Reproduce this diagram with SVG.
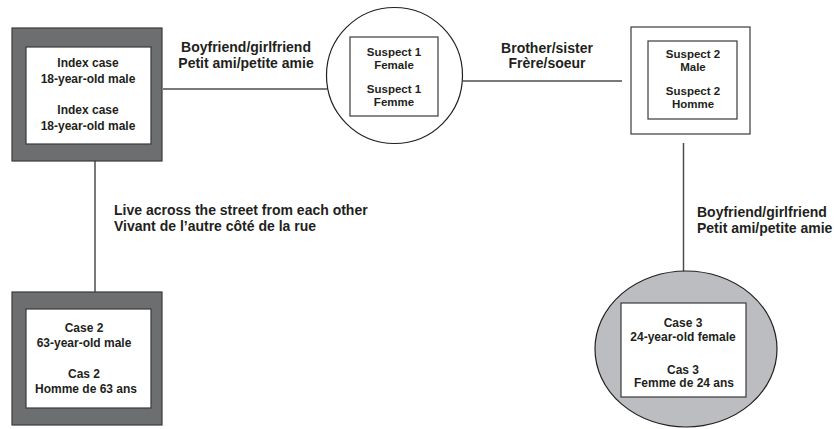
<svg xmlns="http://www.w3.org/2000/svg" width="834" height="429" viewBox="0 0 834 429">
<style>
text{font-family:"Liberation Sans",Arial,sans-serif;font-weight:bold;fill:#231f20}
.n{font-size:12px;text-anchor:middle}
.s{font-size:11.5px;text-anchor:middle}
.l{font-size:14px}
.c{font-size:14px;text-anchor:middle}
.dark{fill:#6d6e70;stroke:#3a3a3c;stroke-width:1.2}
.inner{fill:#fff;stroke:#3a3a3c;stroke-width:1.2}
.conn{stroke:#4d4d4f;stroke-width:1.5;fill:none}
</style>
<g id="connectors">
<line class="conn" x1="163" y1="89" x2="327" y2="89"/>
<line class="conn" x1="463" y1="81" x2="622" y2="81"/>
<line class="conn" x1="95" y1="161" x2="95" y2="292"/>
<line class="conn" x1="683.5" y1="143" x2="683.5" y2="271"/>
<text class="c" x="246" y="52">Boyfriend/girlfriend</text>
<text class="c" x="246" y="68">Petit ami/petite amie</text>
<text class="c" x="547" y="53">Brother/sister</text>
<text class="c" x="547" y="68">Frère/soeur</text>
<text class="l" x="114" y="215">Live across the street from each other</text>
<text class="l" x="114" y="231">Vivant de l’autre côté de la rue</text>
<text class="l" x="697" y="217">Boyfriend/girlfriend</text>
<text class="l" x="697" y="233">Petit ami/petite amie</text>
</g>
<g id="index-case">
<rect class="dark" x="12" y="28" width="150" height="133"/>
<rect class="inner" x="26" y="47" width="125" height="97"/>
<text class="n" x="88" y="67">Index case</text>
<text class="n" x="88" y="83">18-year-old male</text>
<text class="n" x="88" y="114">Index case</text>
<text class="n" x="88" y="130">18-year-old male</text>
</g>
<g id="suspect-1">
<circle cx="394.5" cy="75.5" r="68" fill="#fff" stroke="#231f20" stroke-width="1.2"/>
<rect class="inner" x="350" y="37" width="88" height="79"/>
<text class="s" x="394" y="56">Suspect 1</text>
<text class="s" x="394" y="69">Female</text>
<text class="s" x="394" y="93">Suspect 1</text>
<text class="s" x="394" y="106">Femme</text>
</g>
<g id="suspect-2">
<rect class="inner" x="631" y="27" width="119" height="107"/>
<rect class="inner" x="648" y="41" width="89" height="78"/>
<text class="s" x="693" y="58">Suspect 2</text>
<text class="s" x="693" y="71">Male</text>
<text class="s" x="693" y="95">Suspect 2</text>
<text class="s" x="693" y="108">Homme</text>
</g>
<g id="case-2">
<rect class="dark" x="12" y="292" width="150" height="133"/>
<rect class="inner" x="26" y="309" width="125" height="99"/>
<text class="n" x="84" y="332">Case 2</text>
<text class="n" x="84" y="347">63-year-old male</text>
<text class="n" x="84" y="378">Cas 2</text>
<text class="n" x="86" y="393">Homme de 63 ans</text>
</g>
<g id="case-3">
<ellipse cx="686" cy="349" rx="91" ry="78" fill="#bcbdc0" stroke="#231f20" stroke-width="1.2"/>
<rect class="inner" x="621" y="303" width="125" height="94"/>
<text class="n" x="683" y="327">Case 3</text>
<text class="n" x="683" y="341">24-year-old female</text>
<text class="n" x="683" y="374">Cas 3</text>
<text class="n" x="684" y="387">Femme de 24 ans</text>
</g>
</svg>
